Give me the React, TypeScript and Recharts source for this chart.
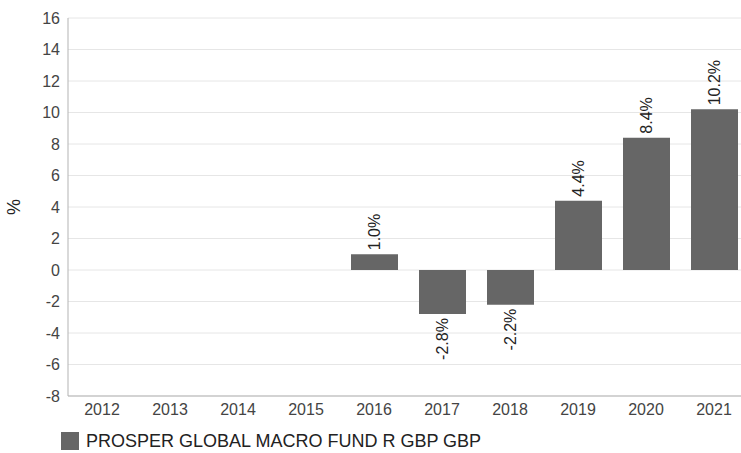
import { BarChart, Bar, XAxis, YAxis, CartesianGrid, LabelList } from 'recharts';

const years = ['2012', '2013', '2014', '2015', '2016', '2017', '2018', '2019', '2020', '2021'];
const returns: (number | null)[] = [null, null, null, null, 1.0, -2.8, -2.2, 4.4, 8.4, 10.2];
const yTicks = [-8, -6, -4, -2, 0, 2, 4, 6, 8, 10, 12, 14, 16];
const seriesName = 'PROSPER GLOBAL MACRO FUND R GBP GBP';

const data = years.map((year, i) => ({ year, value: returns[i] }));

const FONT = '"Liberation Sans", Arial, sans-serif';
const BAR_COLOR = '#666666';
const AXIS_COLOR = '#b3b3b3';

// eslint-disable-next-line @typescript-eslint/no-explicit-any
const BarValueLabel = ({ x, y, width, height, value }: any) => {
  if (value == null) return null;
  const cx = x + width / 2;
  const neg = value < 0;
  // for negative bars y+height is the bottom edge
  const top = Math.min(y, y + height);
  const bottom = Math.max(y, y + height);
  const ay = neg ? bottom + 4 : top - 4;
  return (
    <text
      x={cx}
      y={ay}
      transform={`rotate(-90 ${cx} ${ay})`}
      textAnchor={neg ? 'end' : 'start'}
      dominantBaseline="central"
      fontSize={16}
      fontFamily={FONT}
      fill="#222"
    >
      {`${value.toFixed(1)}%`}
    </text>
  );
};

// eslint-disable-next-line @typescript-eslint/no-explicit-any
const YTitle = ({ viewBox }: any) => {
  const lx = viewBox.x + 14;
  const ly = viewBox.y + viewBox.height / 2;
  return (
    <text
      x={lx}
      y={ly}
      transform={`rotate(-90 ${lx} ${ly})`}
      textAnchor="middle"
      dominantBaseline="central"
      fontSize={18}
      fontFamily={FONT}
      fill="#222"
    >
      %
    </text>
  );
};

export default function App() {
  return (
    <div
      style={{
        position: 'fixed', left: 0, top: 0, width: 741, height: 453,
        overflow: 'hidden', background: '#fff',
      }}
    >
      <BarChart width={750} height={453} data={data} margin={{ top: 18, right: 2, left: 0, bottom: 27 }}>
        <CartesianGrid vertical={false} stroke="#e6e6e6" />
        <XAxis
          dataKey="year"
          axisLine={{ stroke: AXIS_COLOR }}
          tickLine={false}
          height={30}
          interval={0}
          tick={{ fontSize: 16, fill: '#444', fontFamily: FONT }}
        />
        <YAxis
          domain={[-8, 16]}
          ticks={yTicks}
          width={68}
          axisLine={{ stroke: AXIS_COLOR }}
          tickLine={false}
          interval={0}
          tick={{ fontSize: 16, fill: '#444', fontFamily: FONT }}
          label={<YTitle />}
        />
        <Bar dataKey="value" name={seriesName} fill={BAR_COLOR} barSize={47} isAnimationActive={false}>
          <LabelList dataKey="value" content={<BarValueLabel />} />
        </Bar>
      </BarChart>
      <div
        style={{
          position: 'absolute', left: 61, top: 432, height: 18, display: 'flex', alignItems: 'center',
          fontFamily: FONT, fontSize: 18, color: '#222', lineHeight: '18px', whiteSpace: 'nowrap',
        }}
      >
        <span style={{ width: 18, height: 18, background: BAR_COLOR, marginRight: 7, display: 'inline-block' }} />
        {seriesName}
      </div>
    </div>
  );
}
